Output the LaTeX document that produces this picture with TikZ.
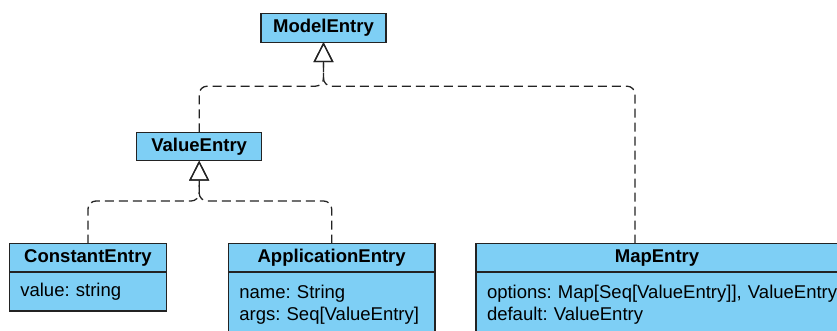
\documentclass[tikz,border=0pt]{standalone}
\usepackage{fontspec}
\setmainfont{Liberation Sans}
\frenchspacing
\definecolor{entryblue}{RGB}{126,207,245}
\definecolor{entryline}{RGB}{35,35,35}
\usetikzlibrary{arrows.meta,positioning}

\begin{document}
\begin{tikzpicture}[
    entryhead/.style={rectangle, draw=entryline, line width=1.1pt, fill=entryblue, outer sep=0pt,
                      minimum height=0.85cm, inner sep=0pt, align=center,
                      font=\fontsize{15.8}{19.2}\selectfont\bfseries},
    entrybody/.style={rectangle, draw=entryline, line width=1.1pt, fill=entryblue, outer sep=0pt,
                      inner xsep=0.33cm, inner ysep=0pt, align=left,
                      font=\fontsize{15.8}{19.2}\selectfont},
    genarr/.style={-{Triangle[open, length=0.6cm, width=0.6cm]}, line width=1.1pt, entryline,
                   dash pattern=on 0.27cm off 0.15cm, rounded corners=0.24cm}
  ]
    \useasboundingbox (0,0) rectangle (25.11,-9.93);

    % Root class
    \node[entryhead, minimum width=3.75cm] (model) at (9.705,-0.84) {ModelEntry};
    % Value entries
    \node[entryhead, minimum width=3.75cm] (val) at (5.975,-4.395) {ValueEntry};

    % Constant entry
    \node[entryhead, minimum width=4.72cm] (cnst) at (2.64,-7.735) {ConstantEntry};
    \node[entrybody, minimum width=4.72cm, text width=4.06cm, minimum height=1.17cm,
          below=0pt of cnst] (cnstbody) {value: string};
    % Application entry
    \node[entryhead, minimum width=6.2cm] (app) at (9.95,-7.735) {ApplicationEntry};
    \node[entrybody, minimum width=6.2cm, text width=5.54cm, minimum height=1.95cm,
          below=0pt of app] (appbody) {name: String\\args: Seq[ValueEntry]};
    % Map entry
    \node[entryhead, minimum width=10.86cm] (map) at (19.71,-7.735) {MapEntry};
    \node[entrybody, minimum width=10.86cm, text width=10.2cm, minimum height=1.95cm,
          below=0pt of map] (mapbody) {\mbox{options: Map[Seq[ValueEntry]], ValueEntry}\\default: ValueEntry};

    % Generalisations
    \draw[genarr] (cnst.north) |- ([yshift=-1.21cm]val.south) -- (val.south);
    \draw[genarr] (app.north) |- ([yshift=-1.21cm]val.south) -- (val.south);
    \draw[genarr] (val.north) |- ([yshift=-1.32cm]model.south) -- (model.south);
    \draw[genarr] ([xshift=-0.66cm]map.north) |- ([yshift=-1.32cm]model.south) -- (model.south);
  \end{tikzpicture}
\end{document}
